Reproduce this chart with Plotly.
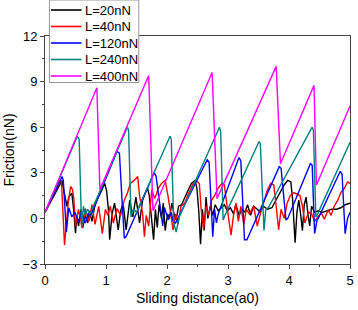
import plotly.graph_objects as go

labels = ["L=20nN", "L=40nN", "L=120nN", "L=240nN", "L=400nN"]
colors = ["#000000", "#ff0000", "#0000ff", "#008080", "#ff00ff"]

x_20 = [0, 0.28, 0.31, 0.36, 0.39, 0.44, 0.47, 0.50, 0.52, 0.55, 0.59, 0.62, 0.66, 0.70, 0.73, 0.77, 0.81, 0.85, 0.90, 0.94, 0.98, 1.01, 1.04, 1.06, 1.10, 1.14, 1.20, 1.24, 1.28, 1.33, 1.39, 1.44, 1.49, 1.55, 1.60, 1.64, 1.68, 1.71, 1.74, 1.78, 1.81, 1.84, 1.87, 1.91, 1.94, 1.97, 2.01, 2.04, 2.08, 2.12, 2.15, 2.19, 2.24, 2.29, 2.34, 2.40, 2.46, 2.49, 2.52, 2.55, 2.58, 2.61, 2.64, 2.67, 2.71, 2.75, 2.79, 2.84, 2.89, 2.94, 2.99, 3.04, 3.09, 3.13, 3.18, 3.23, 3.28, 3.32, 3.37, 3.42, 3.48, 3.53, 3.58, 3.65, 3.72, 3.79, 3.85, 3.92, 3.98, 4.03, 4.06, 4.10, 4.13, 4.16, 4.19, 4.22, 4.25, 4.28, 4.31, 4.34, 4.37, 4.42, 4.48, 4.55, 4.62, 4.70, 4.78, 4.85, 4.92, 5.0]
y_20 = [0.4, 2.5, 1.8, 0.8, 1.4, 1.66, 0.56, -0.97, 0.1, -0.5, 0.6, -0.6, 0.2, -0.3, 0.5, -0.2, 0.7, 1.2, 1.6, 2.0, 2.3, 1.8, 0.56, -1.4, 0.3, 1.0, -0.75, 0.5, 1.0, -0.75, 1.2, 0.1, 1.4, -0.3, 1.2, 1.6, 2.0, 1.5, 0.3, -1.4, 0.6, -0.6, 0.9, 0.0, 1.0, -0.8, 0.3, 0.0, 1.0, 0.2, -0.1, 0.8, 0.9, 1.4, 1.8, 2.3, 2.5, 2.0, 0.5, -1.7, 0.6, -0.8, 1.4, 0.0, 0.8, 0.2, 0.9, 0.5, 0.7, 0.9, 0.5, 0.7, 0.3, 0.9, 0.2, 0.6, 0.4, 0.9, 0.2, 0.8, 0.6, 0.4, 0.8, 0.6, 0.7, 1.2, 1.7, 2.2, 2.5, 2.4, 1.2, -1.6, 0.4, 1.2, 0.3, -0.8, 0.9, 1.4, 0.3, -0.5, 0.8, 0.4, 0.5, 0.4, 0.5, 0.6, 0.6, 0.7, 0.9, 1.0]

x_40 = [0, 0.25, 0.27, 0.32, 0.38, 0.42, 0.45, 0.47, 0.50, 0.55, 0.61, 0.66, 0.72, 0.77, 0.82, 0.88, 0.94, 0.99, 1.03, 1.07, 1.12, 1.18, 1.24, 1.30, 1.35, 1.40, 1.46, 1.52, 1.55, 1.60, 1.63, 1.66, 1.70, 1.75, 1.80, 1.86, 1.91, 1.97, 2.02, 2.06, 2.10, 2.14, 2.18, 2.23, 2.29, 2.35, 2.43, 2.48, 2.53, 2.56, 2.60, 2.64, 2.68, 2.73, 2.78, 2.84, 2.90, 2.94, 2.98, 3.02, 3.05, 3.09, 3.13, 3.17, 3.21, 3.26, 3.30, 3.35, 3.42, 3.48, 3.53, 3.58, 3.64, 3.70, 3.75, 3.79, 3.83, 3.87, 3.92, 3.97, 4.02, 4.08, 4.13, 4.18, 4.22, 4.26, 4.32, 4.37, 4.42, 4.47, 4.53, 4.58, 4.64, 4.69, 4.74, 4.80, 4.85, 4.91, 4.96, 5.0]
y_40 = [0.4, 2.5, 2.4, -1.74, 1.0, 2.1, 1.9, 1.4, -0.5, 0.6, -0.64, 0.65, -0.2, 0.9, -0.4, 0.8, -1.0, 0.6, 0.2, 0.8, -0.3, 0.65, 0.2, 1.2, 1.66, 2.3, 2.5, 2.76, 1.5, 0.35, -1.2, 0.2, -0.5, 1.9, 1.3, 2.0, 2.3, 2.5, 1.4, 0.3, -0.75, 0.3, -0.4, 0.8, 1.0, 1.6, 2.3, 2.5, 2.3, 0.6, -0.75, 0.8, 0.2, 1.2, 1.5, 2.0, 2.3, 2.2, 0.8, -0.3, -1.1, 0.2, 1.0, -0.2, 0.8, -0.4, 0.6, 0.3, 0.8, -0.5, 0.3, 1.0, 1.8, 2.3, 2.2, 0.8, -0.75, 0.6, 0.0, 1.0, 1.5, 1.7, 1.6, 1.5, 0.8, -0.3, 0.4, 0.3, -0.2, 0.1, 0.35, -0.05, 0.56, 0.2, 0.8, 1.2, 1.7, 2.0, 2.4, 2.3]

x_120 = [0, 0.28, 0.30, 0.35, 0.39, 0.44, 0.49, 0.55, 0.60, 0.66, 0.71, 0.75, 1.18, 1.22, 1.26, 1.30, 1.33, 1.79, 1.82, 1.89, 1.93, 1.96, 2.02, 2.07, 2.10, 2.14, 2.66, 2.69, 2.75, 2.78, 2.81, 2.84, 3.18, 3.21, 3.27, 3.31, 3.84, 3.87, 3.91, 3.95, 3.98, 4.35, 4.38, 4.42, 4.46, 4.48, 4.84, 4.87, 4.92, 4.96, 5.0]
y_120 = [0.4, 2.76, 2.5, -0.9, 0.7, 0.1, 0.4, -0.2, 0.45, -0.3, 0.3, 0.2, 4.4, 4.3, 1.4, -1.3, -1.2, 3.0, 2.8, 0.5, -0.5, 0.7, -0.1, 0.4, -0.2, -0.3, 3.86, 3.7, -1.2, 0.6, -0.3, 0.3, 4.0, 3.8, -1.4, -1.4, 3.4, 3.3, 1.4, -0.1, 0.0, 3.6, 3.5, -1.0, -0.1, 0.0, 3.1, 2.9, -1.0, 0.0, 0.4]

x_240 = [0, 0.53, 0.56, 0.60, 0.63, 0.66, 0.70, 0.74, 1.35, 1.37, 1.41, 1.45, 1.50, 2.05, 2.07, 2.11, 2.15, 2.20, 2.86, 2.88, 2.92, 2.95, 3.51, 3.53, 3.59, 3.62, 3.66, 4.38, 4.40, 4.44, 4.47, 5.0]
y_240 = [0.4, 5.4, 5.2, -0.6, 0.8, 0.2, 0.6, 0.3, 6.0, 5.8, 0.1, 0.6, 0.4, 5.4, 5.2, -0.3, -0.9, 0.1, 6.0, 5.7, -0.1, 0.2, 5.06, 4.9, -0.8, 0.6, 0.7, 6.0, 5.8, 0.1, 0.3, 5.0]

x_400 = [0, 0.85, 0.90, 1.70, 1.77, 2.74, 2.82, 3.79, 3.86, 4.41, 4.45, 5.0]
y_400 = [0.4, 8.6, 1.9, 9.4, 0.5, 9.6, 1.3, 10.0, 3.6, 8.75, 2.2, 7.4]

xs = [x_20, x_40, x_120, x_240, x_400]
ys = [y_20, y_40, y_120, y_240, y_400]

x_ticks = [0, 1, 2, 3, 4, 5]
y_ticks = [-3, 0, 3, 6, 9, 12]

fig = go.Figure()
for name, c, xv, yv in zip(labels, colors, xs, ys):
    fig.add_trace(go.Scatter(x=xv, y=yv, mode="lines", name=name,
                             line=dict(color=c, width=1.4), showlegend=False))

# Legend box drawn as shapes + text annotations (paper coordinates)
PW, PH = 309.0, 228.0
def px_x(d):  # pixel offset from plot left -> paper
    return d / PW
def px_y(d):  # pixel offset above plot top -> paper
    return 1 + d / PH

shapes = [dict(type="rect", xref="paper", yref="paper",
               x0=px_x(4.5), x1=px_x(95), y0=px_y(36 - 82.5), y1=px_y(36),
               fillcolor="white", line=dict(color="#999999", width=1), layer="above")]
annotations = []
for i, (name, c) in enumerate(zip(labels, colors)):
    yy = px_y(36 - (10 + i * 16.5))
    shapes.append(dict(type="line", xref="paper", yref="paper",
                       x0=px_x(6), x1=px_x(37), y0=yy, y1=yy,
                       line=dict(color=c, width=1.6), layer="above"))
    annotations.append(dict(xref="paper", yref="paper", x=px_x(38.5), y=yy,
                            text=name, showarrow=False, xanchor="left", yanchor="middle",
                            font=dict(size=13, color="#000000")))

font_fam = "Arial, Liberation Sans, sans-serif"
fig.update_layout(
    width=358, height=310,
    margin=dict(l=45, r=4, t=36, b=46),
    plot_bgcolor="white", paper_bgcolor="white",
    font=dict(family=font_fam, size=13, color="#000000"),
    showlegend=False,
    shapes=shapes,
    annotations=annotations,
    xaxis=dict(range=[0, 5], tickvals=x_ticks, ticks="outside", ticklen=4,
               tickcolor="#444", showline=True, linecolor="#444", linewidth=1,
               mirror=True, showgrid=False, zeroline=False,
               minor=dict(dtick=0.5, ticks="outside", ticklen=2, tickcolor="#444"),
               title=dict(text="Sliding distance(a0)", font=dict(size=14), standoff=6)),
    yaxis=dict(range=[-3, 12], tickvals=y_ticks, ticks="outside", ticklen=4,
               tickcolor="#444", showline=True, linecolor="#444", linewidth=1,
               mirror=True, showgrid=False, zeroline=False,
               minor=dict(dtick=1.5, ticks="outside", ticklen=2, tickcolor="#444"),
               title=dict(text="Friction(nN)", font=dict(size=14), standoff=4)),
)

fig.write_html("out.html",
               config={"displayModeBar": False},
               post_script="document.body.style.margin='0';document.body.style.overflow='hidden';")
